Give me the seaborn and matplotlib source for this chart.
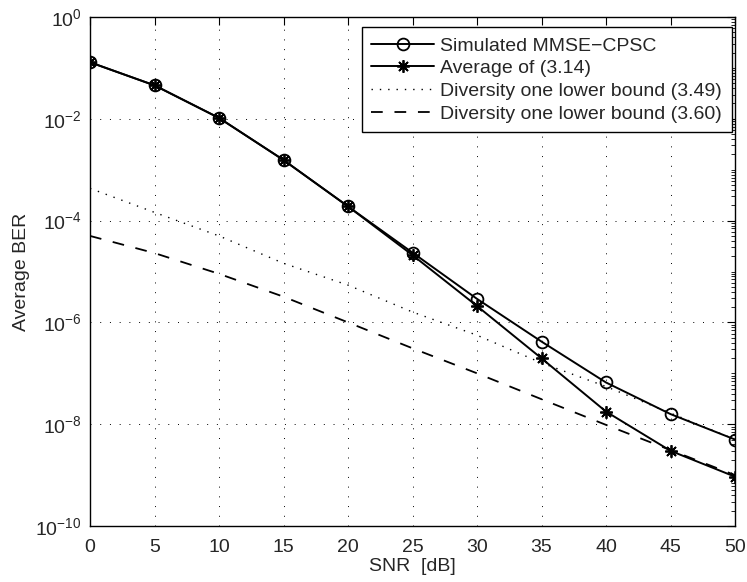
import numpy as np
import pandas as pd
import matplotlib
matplotlib.use("Agg")
import matplotlib.pyplot as plt
import seaborn as sns
from matplotlib.ticker import LogLocator, LogFormatterSciNotation, NullFormatter, FixedLocator

snr = [0, 5, 10, 15, 20, 25, 30, 35, 40, 45, 50]
sim_mmse = [0.129, 0.0454, 0.0104, 1.55e-3, 1.9e-4, 2.35e-5, 2.9e-6, 4.2e-7, 6.6e-8, 1.58e-8, 5.0e-9]
avg_314 = [0.129, 0.0454, 0.0104, 1.55e-3, 1.9e-4, 2.1e-5, 2.1e-6, 1.97e-7, 1.77e-8, 3.0e-9, 9.3e-10]
bound_349 = [4.3e-4, 1.45e-4, 5.0e-5, 1.45e-5, 5.4e-6, 1.6e-6, 5.6e-7, 1.6e-7, 5.5e-8, 1.65e-8, 5.0e-9]
bound_360 = [5.0e-5, 2.3e-5, 9.0e-6, 3.2e-6, 1.0e-6, 3.1e-7, 1.0e-7, 3.1e-8, 9.7e-9, 3.1e-9, 1.0e-9]

x_ticks = [0, 5, 10, 15, 20, 25, 30, 35, 40, 45, 50]
y_ticks = [1e-10, 1e-8, 1e-6, 1e-4, 1e-2, 1e0]

labels = ["Simulated MMSE\u2212CPSC", "Average of (3.14)",
          "Diversity one lower bound (3.49)", "Diversity one lower bound (3.60)"]

sns.set_theme(style="white")
plt.rcParams["font.family"] = ["Liberation Sans", "DejaVu Sans"]
plt.rcParams["mathtext.default"] = "regular"
plt.rcParams["axes.unicode_minus"] = True

fig = plt.figure(figsize=(7.47, 5.82), dpi=100)
ax = fig.add_axes([90 / 747, 1 - 526 / 582, 645 / 747, 509 / 582])

sns.lineplot(x=snr, y=sim_mmse, ax=ax, color="black", lw=1.4, marker="o",
             markersize=8.5, markerfacecolor="none", markeredgecolor="black",
             markeredgewidth=1.3, label=labels[0])
sns.lineplot(x=snr, y=avg_314, ax=ax, color="black", lw=1.4, marker=(8, 2, 0),
             markersize=9, markeredgecolor="black", markeredgewidth=1.3,
             label=labels[1])
sns.lineplot(x=snr, y=bound_349, ax=ax, color="black", lw=1.0,
             label=labels[2])
sns.lineplot(x=snr, y=bound_360, ax=ax, color="black", lw=1.3,
             label=labels[3])
ax.lines[2].set_dashes((1, 5))
ax.lines[3].set_dashes((6.5, 6.5))

ax.set_yscale("log")
ax.set_xlim(0, 50)
ax.set_ylim(1e-10, 1e0)
ax.xaxis.set_major_locator(FixedLocator(x_ticks))
ax.yaxis.set_major_locator(FixedLocator(y_ticks))
ax.yaxis.set_major_formatter(LogFormatterSciNotation(base=10))
minor_y = [m * 10.0 ** e for e in range(-10, 0) for m in range(2, 10)] + [10.0 ** e for e in (-9, -7, -5, -3, -1)]
ax.yaxis.set_minor_locator(FixedLocator(sorted(minor_y)))
ax.yaxis.set_minor_formatter(NullFormatter())

ax.grid(True, which="major", color="black", lw=0.7, linestyle=(0, (1, 9)))
ax.tick_params(which="both", direction="in", top=True, right=True, color="black")
ax.tick_params(which="major", length=6, width=0.8, labelsize=14)
ax.tick_params(axis="x", which="major", pad=9)
ax.tick_params(axis="y", which="major", pad=6)
ax.tick_params(which="minor", length=3, width=0.6)
for s in ax.spines.values():
    s.set_color("black")
    s.set_linewidth(1.0)

ax.set_xlabel("SNR  [dB]", fontsize=14, labelpad=1.5)
ax.set_ylabel("Average BER", fontsize=14, labelpad=4)

h, l = ax.get_legend_handles_labels()
leg = ax.legend(h, l, loc="upper right", bbox_to_anchor=(0.9953, 0.98), fontsize=14,
                frameon=True, fancybox=False, framealpha=1, edgecolor="black",
                borderpad=0.5, labelspacing=0.26, handlelength=3.2,
                handletextpad=0.35, borderaxespad=0.0)
leg.get_frame().set_linewidth(1.0)

fig.savefig("out.png", dpi=100)
